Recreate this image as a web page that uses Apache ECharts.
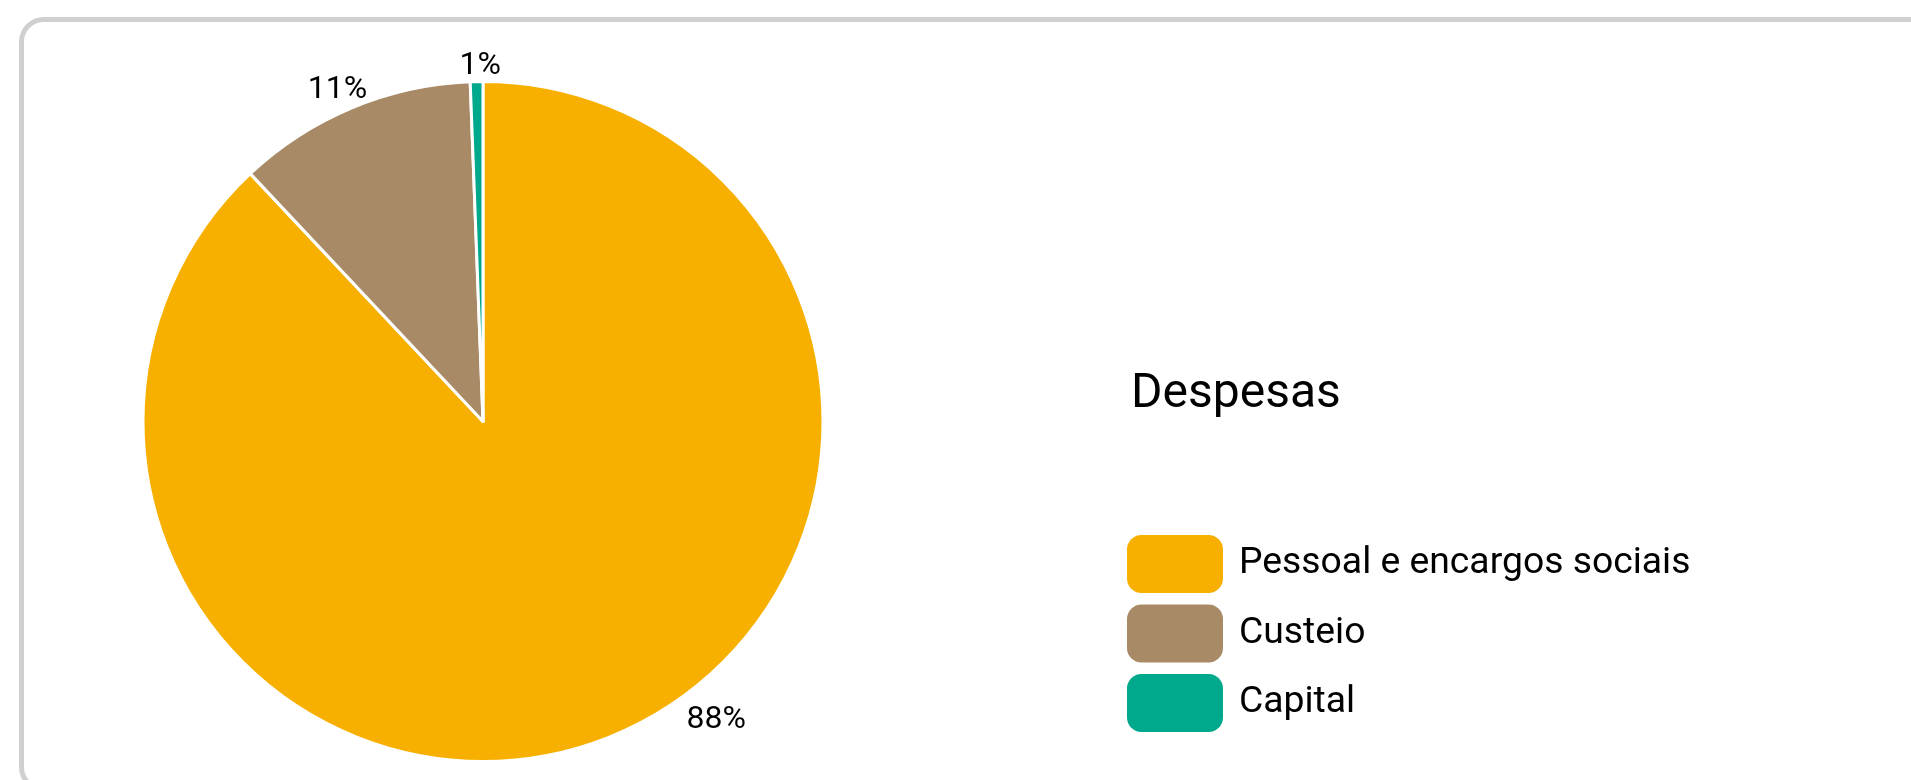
<!DOCTYPE html>
<html>
<head>
<meta charset="utf-8">
<script src="https://cdn.jsdelivr.net/npm/echarts@6/dist/echarts.min.js"></script>
<style>
html,body{margin:0;padding:0;background:#fff;width:1911px;height:780px;overflow:hidden;}
#frame{position:absolute;left:19px;top:17px;width:1960px;height:775px;border:5px solid #d0d0d0;border-radius:25px;box-sizing:border-box;}
#chart{position:absolute;left:0;top:0;width:1911px;height:780px;}
</style>
</head>
<body>
<div id="frame"></div>
<div id="chart"></div>
<script>
// Data
const categories = ['Pessoal e encargos sociais', 'Custeio', 'Capital'];
const values = [88.0, 11.4, 0.6];
const colors = ['#F8B000', '#A88B66', '#00A88C'];
const legendTitle = 'Despesas';

const pieData = categories.map((name, i) => ({
  name: name,
  value: values[i],
  itemStyle: { color: colors[i] }
}));
const ringData = categories.map((name, i) => ({ name: name, value: values[i] }));

const chart = echarts.init(document.getElementById('chart'), null, { renderer: 'canvas' });
const FONT = 'Roboto';
chart.setOption({
  animation: false,
  backgroundColor: 'transparent',
  title: {
    text: legendTitle,
    left: 1131,
    top: 371,
    padding: 0,
    textStyle: { fontFamily: FONT, fontSize: 48, fontWeight: 'normal', color: '#000' }
  },
  legend: {
    data: categories,
    orient: 'vertical',
    left: 1127,
    top: 535,
    padding: 0,
    itemWidth: 96,
    itemHeight: 58,
    itemGap: 11.5,
    icon: 'roundRect',
    itemStyle: { borderWidth: 0 },
    selectedMode: false,
    textStyle: { fontFamily: FONT, fontSize: 37.3, color: '#000', padding: [5, 0, 0, 11] }
  },
  series: [
    {
      type: 'pie',
      name: legendTitle,
      center: [483, 421.5],
      radius: [0, 340],
      startAngle: 90,
      clockwise: true,
      avoidLabelOverlap: false,
      itemStyle: { borderColor: '#fff', borderWidth: 3 },
      label: { show: false },
      labelLine: { show: false },
      emphasis: { disabled: true },
      data: pieData
    },
    {
      type: 'pie',
      name: 'labels',
      center: [483, 421.5],
      radius: [340, 372],
      startAngle: 90,
      clockwise: true,
      silent: true,
      avoidLabelOverlap: false,
      itemStyle: { color: 'rgba(0,0,0,0)', borderWidth: 0 },
      label: {
        show: true,
        position: 'inside',
        fontFamily: FONT,
        fontSize: 32,
        color: '#000',
        formatter: p => Math.round(p.percent) + '%'
      },
      labelLine: { show: false },
      labelLayout: function (p) {
        if (p.dataIndex === 0) return { dx: 101, dy: -35 };
        if (p.dataIndex === 1) return { dx: -7 };
        if (p.dataIndex === 2) return { dx: 4, dy: 3 };
        return {};
      },
      emphasis: { disabled: true },
      data: ringData
    }
  ]
});
</script>
</body>
</html>
